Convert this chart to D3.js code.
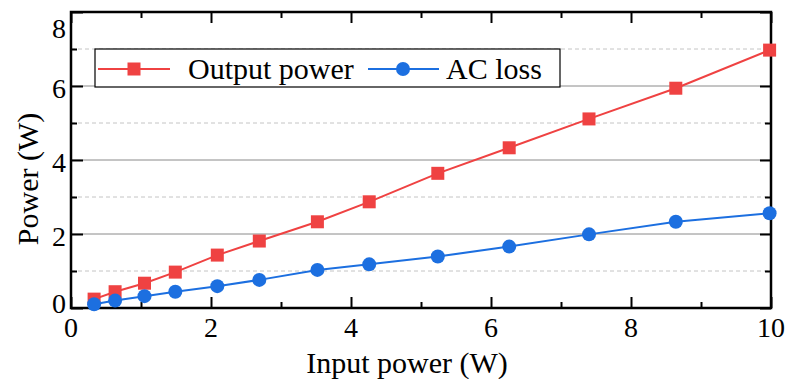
<!DOCTYPE html>
<html>
<head>
<meta charset="utf-8">
<script src="https://cdn.jsdelivr.net/npm/d3@7/dist/d3.min.js"></script>
<style>
  body { margin: 0; background: #fff; }
</style>
</head>
<body>
<svg id="chart" width="791" height="379" font-family="Liberation Serif"></svg>
<script>
// data
const inputPower = [0.33, 0.63, 1.05, 1.49, 2.09, 2.69, 3.52, 4.26, 5.24, 6.26, 7.4, 8.64, 9.98];
const outputPower = [0.24, 0.44, 0.67, 0.97, 1.43, 1.81, 2.33, 2.87, 3.64, 4.33, 5.11, 5.94, 6.97];
const acLoss = [0.10, 0.20, 0.32, 0.44, 0.59, 0.76, 1.03, 1.18, 1.39, 1.66, 1.99, 2.33, 2.56];
const xTicks = [0, 2, 4, 6, 8, 10];
const yTicks = [0, 2, 4, 6, 8];
const seriesNames = ["Output power", "AC loss"];

const red = "#ef4242";
const blue = "#1c6fe0";
const serif = "Liberation Serif";

const svg = d3.select("#chart");
const pLeft = 71, pRight = 771, pTop = 12, pBottom = 308;

const x = d3.scaleLinear().domain([0, 10]).range([pLeft, pRight]);
const y = d3.scaleLinear().domain([0, 8]).range([pBottom, pTop]);

// gridlines
const grid = svg.append("g");
grid.append("g").selectAll("line")
    .data(yTicks.filter(d => d > 0 && d < 8))
    .join("line")
    .attr("x1", pLeft).attr("x2", pRight)
    .attr("y1", d => y(d)).attr("y2", d => y(d))
    .attr("stroke", "#8a8a8a").attr("stroke-width", 1);
grid.append("g").selectAll("line")
    .data([1, 3, 5, 7])
    .join("line")
    .attr("x1", pLeft).attr("x2", pRight)
    .attr("y1", d => y(d)).attr("y2", d => y(d))
    .attr("stroke", "#c4c4c4").attr("stroke-width", 1)
    .attr("stroke-dasharray", "4,3");

// axes with inward ticks
function ticks(g, axis) {
    g.call(axis).call(s => s.select(".domain").remove());
    g.selectAll("line").attr("stroke", "#000").attr("stroke-width", 2);
}
const minorX = d3.range(1, 10, 2);
const minorY = d3.range(1, 8, 2);

svg.append("g").attr("transform", `translate(0,${pBottom})`)
    .call(g => ticks(g, d3.axisTop(x).tickValues(xTicks).tickSize(11).tickFormat("")));
svg.append("g").attr("transform", `translate(0,${pBottom})`)
    .call(g => ticks(g, d3.axisTop(x).tickValues(minorX).tickSize(6).tickFormat("")));
svg.append("g").attr("transform", `translate(0,${pTop})`)
    .call(g => ticks(g, d3.axisBottom(x).tickValues(xTicks).tickSize(11).tickFormat("")));
svg.append("g").attr("transform", `translate(0,${pTop})`)
    .call(g => ticks(g, d3.axisBottom(x).tickValues(minorX).tickSize(6).tickFormat("")));
svg.append("g").attr("transform", `translate(${pLeft},0)`)
    .call(g => ticks(g, d3.axisRight(y).tickValues(yTicks).tickSize(12).tickFormat("")));
svg.append("g").attr("transform", `translate(${pLeft},0)`)
    .call(g => ticks(g, d3.axisRight(y).tickValues(minorY).tickSize(6).tickFormat("")));
svg.append("g").attr("transform", `translate(${pRight},0)`)
    .call(g => ticks(g, d3.axisLeft(y).tickValues(yTicks).tickSize(11).tickFormat("")));
svg.append("g").attr("transform", `translate(${pRight},0)`)
    .call(g => ticks(g, d3.axisLeft(y).tickValues(minorY).tickSize(6).tickFormat("")));

// frame
svg.append("rect")
    .attr("x", pLeft).attr("y", pTop)
    .attr("width", pRight - pLeft).attr("height", pBottom - pTop)
    .attr("fill", "none").attr("stroke", "#000").attr("stroke-width", 2.5);

// tick labels
svg.append("g").selectAll("text")
    .data(xTicks)
    .join("text")
    .attr("x", d => x(d)).attr("y", 337)
    .attr("text-anchor", "middle")
    .attr("font-family", serif)
    .attr("font-size", 28)
    .text(d => d);
svg.append("g").selectAll("text")
    .data(yTicks)
    .join("text")
    .attr("x", 66)
    .attr("y", d => d === 8 ? y(d) + 26 : d === 0 ? y(d) + 5 : y(d) + 12)
    .attr("text-anchor", "end")
    .attr("font-family", serif)
    .attr("font-size", 28)
    .text(d => d);

// axis titles
svg.append("text")
    .attr("x", 407).attr("y", 373)
    .attr("text-anchor", "middle")
    .attr("font-family", serif)
    .attr("font-size", 30)
    .text("Input power (W)");
svg.append("text")
    .attr("transform", "translate(38,179) rotate(-90)")
    .attr("text-anchor", "middle")
    .attr("font-family", serif)
    .attr("font-size", 30)
    .text("Power (W)");

// series
const line = d3.line().x(d => x(d[0])).y(d => y(d[1]));
const outData = d3.zip(inputPower, outputPower);
const acData = d3.zip(inputPower, acLoss);

svg.append("path").datum(outData)
    .attr("d", line).attr("fill", "none").attr("stroke", red).attr("stroke-width", 2);
svg.append("path").datum(acData)
    .attr("d", line).attr("fill", "none").attr("stroke", blue).attr("stroke-width", 2);

const sq = 13;
svg.append("g").selectAll("rect")
    .data(outData)
    .join("rect")
    .attr("x", d => x(d[0]) - sq / 2).attr("y", d => y(d[1]) - sq / 2)
    .attr("width", sq).attr("height", sq)
    .attr("fill", red);
svg.append("g").selectAll("circle")
    .data(acData)
    .join("circle")
    .attr("cx", d => x(d[0])).attr("cy", d => y(d[1]))
    .attr("r", 7)
    .attr("fill", blue);

// legend
const lg = svg.append("g");
lg.append("rect")
    .attr("x", 95).attr("y", 49).attr("width", 465).attr("height", 38)
    .attr("fill", "#fff").attr("stroke", "#000").attr("stroke-width", 1.2);
const ly = 69;
lg.append("line").attr("x1", 98).attr("x2", 170).attr("y1", ly).attr("y2", ly)
    .attr("stroke", red).attr("stroke-width", 2);
lg.append("rect").attr("x", 134 - sq / 2).attr("y", ly - sq / 2)
    .attr("width", sq).attr("height", sq).attr("fill", red);
lg.append("text").attr("x", 188).attr("y", ly + 10)
    .attr("font-family", serif).attr("font-size", 30).text(seriesNames[0]);
lg.append("line").attr("x1", 368).attr("x2", 439).attr("y1", ly).attr("y2", ly)
    .attr("stroke", blue).attr("stroke-width", 2);
lg.append("circle").attr("cx", 403).attr("cy", ly).attr("r", 7).attr("fill", blue);
lg.append("text").attr("x", 446).attr("y", ly + 10)
    .attr("font-family", serif).attr("font-size", 30).text(seriesNames[1]);
</script>
</body>
</html>
